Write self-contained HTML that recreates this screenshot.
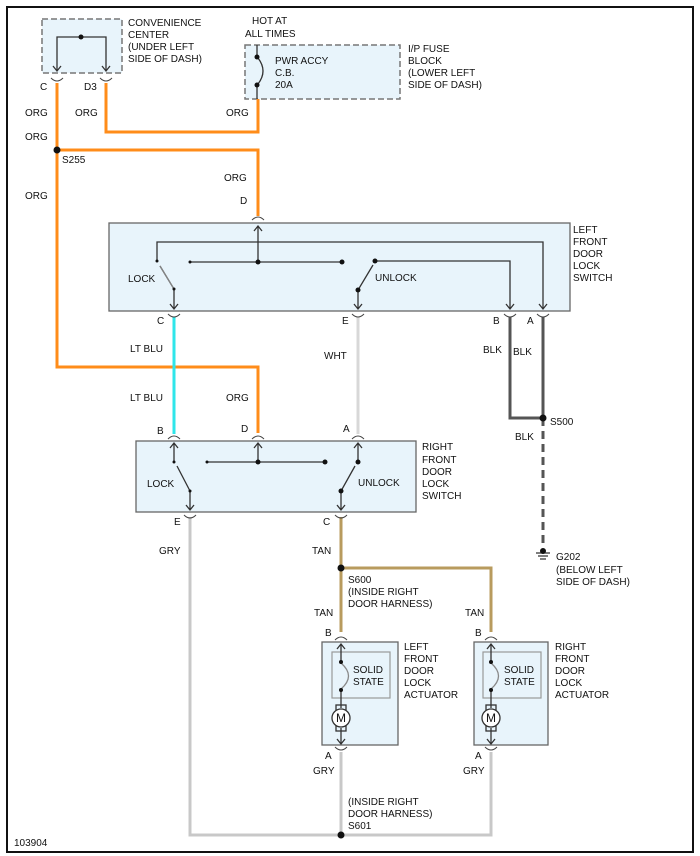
<!DOCTYPE html>
<html><head><meta charset="utf-8"><style>
body{margin:0;background:#fff}
svg{display:block}
text{font-family:"Liberation Sans",sans-serif;font-size:10px;fill:#111}
</style></head><body>
<svg width="700" height="856" viewBox="0 0 700 856" xmlns="http://www.w3.org/2000/svg">
<rect x="7" y="7" width="686" height="845" fill="#fff" stroke="#111" stroke-width="2"/>

<!-- boxes -->
<rect x="42" y="19" width="80" height="54" fill="#e8f4fb" stroke="#777" stroke-width="1.5" stroke-dasharray="6,3"/>
<rect x="245" y="45" width="155" height="54" fill="#e8f4fb" stroke="#777" stroke-width="1.5" stroke-dasharray="6,3"/>
<rect x="109" y="223" width="461" height="88" fill="#e8f4fb" stroke="#666" stroke-width="1.3"/>
<rect x="136" y="441" width="280" height="71" fill="#e8f4fb" stroke="#666" stroke-width="1.3"/>
<rect x="322" y="642" width="76" height="103" fill="#e8f4fb" stroke="#666" stroke-width="1.3"/>
<rect x="474" y="642" width="74" height="103" fill="#e8f4fb" stroke="#666" stroke-width="1.3"/>
<rect x="332" y="652" width="58" height="46" fill="none" stroke="#999" stroke-width="1.2"/>
<rect x="483" y="652" width="58" height="46" fill="none" stroke="#999" stroke-width="1.2"/>

<!-- wires -->
<g fill="none" stroke-width="3">
<path d="M57 83 V367 H258 V433" stroke="#ff8c1a"/>
<path d="M106 83 V132 H258 V99" stroke="#ff8c1a"/>
<path d="M57 150 H258 V216" stroke="#ff8c1a"/>
<path d="M174 317 V434" stroke="#2ee6ea"/>
<path d="M358 317 V434" stroke="#d8d8d8"/>
<path d="M510 317 V418 H543" stroke="#555"/>
<path d="M543 317 V418" stroke="#555"/>
<path d="M543 418 V548" stroke="#555" stroke-dasharray="8,5"/>
<path d="M190 517 V835 H491 V752" stroke="#c8c8c8"/>
<path d="M341 752 V835" stroke="#c8c8c8"/>
<path d="M341 517 V632" stroke="#b89b5e"/>
<path d="M341 568 H491 V632" stroke="#b89b5e"/>
</g>

<!-- internal lines -->
<g fill="none" stroke="#333" stroke-width="1.3">
<path d="M57 70 V37 H106 V70"/>
<path d="M53 66 L57 71 L61 66 M102 66 L106 71 L110 66"/>
<path d="M257 45 V57 M257 85 V99"/>
<path d="M258 58 Q268 71 258 84"/>
<!-- LF switch -->
<path d="M258 226 V262 M190 262 H342"/>
<path d="M254 231 L258 226 L262 231"/>
<path d="M157 261 V242 H543 V309"/>
<path d="M539 304 L543 309 L547 304"/>
<path d="M160 266 L174 289 V309 M170 304 L174 309 L178 304"/>
<path d="M375 261 H510 V309 M506 304 L510 309 L514 304"/>
<path d="M373 265 L358 290 V309 M354 304 L358 309 L362 304"/>
<!-- RF switch -->
<path d="M258 443 V462 M207 462 H325"/>
<path d="M254 448 L258 443 L262 448"/>
<path d="M174 443 V462 M170 448 L174 443 L178 448"/>
<path d="M177 466 L190 491 V510 M186 505 L190 510 L194 505"/>
<path d="M358 443 V462 M354 448 L358 443 L362 448"/>
<path d="M355 466 L341 491 V510 M337 505 L341 510 L345 505"/>
<!-- actuators -->
<path d="M341 644 V662 M341 690 V708 M341 728 V744"/>
<path d="M337 649 L341 644 L345 649 M337 739 L341 744 L345 739"/>
<path d="M341 663 Q356 676 341 689" stroke="#888"/>
<rect x="336" y="705" width="10" height="5"/><rect x="336" y="726" width="10" height="5"/>
<circle cx="341" cy="718" r="9" fill="#fff"/>
<path d="M491 644 V662 M491 690 V708 M491 728 V744"/>
<path d="M487 649 L491 644 L495 649 M487 739 L491 744 L495 739"/>
<path d="M491 663 Q506 676 491 689" stroke="#888"/>
<rect x="486" y="705" width="10" height="5"/><rect x="486" y="726" width="10" height="5"/>
<circle cx="491" cy="718" r="9" fill="#fff"/>
<!-- ground -->
<path d="M536 553 H550 M538 556 H548 M540 559 H546" stroke="#333"/>
</g>
<g fill="none" stroke="#999" stroke-width="1.2">
<path d="M160 266 L174 289" stroke="#888"/>
</g>

<!-- connector cups -->
<g fill="none" stroke="#444" stroke-width="1">
<path d="M51 78 Q57 84 63 78 M100 78 Q106 84 112 78"/>
<path d="M252 220 Q258 214 264 220"/>
<path d="M168 314 Q174 320 180 314 M352 314 Q358 320 364 314 M504 314 Q510 320 516 314 M537 314 Q543 320 549 314"/>
<path d="M168 439 Q174 433 180 439 M252 439 Q258 433 264 439 M352 439 Q358 433 364 439"/>
<path d="M184 515 Q190 521 196 515 M335 515 Q341 521 347 515"/>
<path d="M335 640 Q341 634 347 640 M485 640 Q491 634 497 640"/>
<path d="M335 747 Q341 753 347 747 M485 747 Q491 753 497 747"/>
</g>

<!-- dots -->
<g fill="#111">
<circle cx="81" cy="37" r="2.5"/><circle cx="257" cy="57" r="2.5"/><circle cx="257" cy="85" r="2.5"/>
<circle cx="57" cy="150" r="3.5"/>
<circle cx="258" cy="262" r="2.5"/><circle cx="342" cy="262" r="2.5"/><circle cx="190" cy="262" r="1.5"/>
<circle cx="157" cy="261" r="1.5"/><circle cx="174" cy="289" r="1.5"/><circle cx="375" cy="261" r="2.5"/><circle cx="358" cy="290" r="2.5"/>
<circle cx="258" cy="462" r="2.5"/><circle cx="325" cy="462" r="2.5"/><circle cx="207" cy="462" r="1.5"/>
<circle cx="174" cy="462" r="1.5"/><circle cx="190" cy="491" r="1.5"/><circle cx="358" cy="462" r="2.5"/><circle cx="341" cy="491" r="2.5"/>
<circle cx="341" cy="662" r="2"/><circle cx="341" cy="690" r="2"/><circle cx="491" cy="662" r="2"/><circle cx="491" cy="690" r="2"/>
<circle cx="543" cy="418" r="3.5"/><circle cx="543" cy="551" r="3"/>
<circle cx="341" cy="568" r="3.5"/><circle cx="341" cy="835" r="3.5"/>
</g>
<text x="336" y="722" style="font-size:12px">M</text>
<text x="486" y="722" style="font-size:12px">M</text>

<!-- labels -->
<text x="128" y="26">CONVENIENCE</text><text x="128" y="38">CENTER</text><text x="128" y="50">(UNDER LEFT</text><text x="128" y="62">SIDE OF DASH)</text>
<text x="252" y="24">HOT AT</text><text x="245" y="37">ALL TIMES</text>
<text x="275" y="64">PWR ACCY</text><text x="275" y="76">C.B.</text><text x="275" y="88">20A</text>
<text x="408" y="52">I/P FUSE</text><text x="408" y="64">BLOCK</text><text x="408" y="76">(LOWER LEFT</text><text x="408" y="88">SIDE OF DASH)</text>
<text x="40" y="90">C</text><text x="84" y="90">D3</text>
<text x="25" y="116">ORG</text><text x="75" y="116">ORG</text><text x="226" y="116">ORG</text>
<text x="25" y="140">ORG</text><text x="62" y="163">S255</text><text x="25" y="199">ORG</text>
<text x="224" y="181">ORG</text><text x="240" y="204">D</text>
<text x="573" y="233">LEFT</text><text x="573" y="245">FRONT</text><text x="573" y="257">DOOR</text><text x="573" y="269">LOCK</text><text x="573" y="281">SWITCH</text>
<text x="128" y="282">LOCK</text><text x="375" y="281">UNLOCK</text>
<text x="157" y="324">C</text><text x="342" y="324">E</text><text x="493" y="324">B</text><text x="527" y="324">A</text>
<text x="130" y="352">LT BLU</text><text x="324" y="359">WHT</text><text x="483" y="353">BLK</text><text x="513" y="355">BLK</text>
<text x="130" y="401">LT BLU</text><text x="226" y="401">ORG</text>
<text x="550" y="425">S500</text><text x="515" y="440">BLK</text>
<text x="157" y="434">B</text><text x="241" y="432">D</text><text x="343" y="432">A</text>
<text x="422" y="450">RIGHT</text><text x="422" y="463">FRONT</text><text x="422" y="475">DOOR</text><text x="422" y="487">LOCK</text><text x="422" y="499">SWITCH</text>
<text x="147" y="487">LOCK</text><text x="358" y="486">UNLOCK</text>
<text x="174" y="525">E</text><text x="323" y="525">C</text>
<text x="159" y="554">GRY</text><text x="312" y="554">TAN</text>
<text x="556" y="560">G202</text><text x="556" y="573">(BELOW LEFT</text><text x="556" y="585">SIDE OF DASH)</text>
<text x="348" y="583">S600</text><text x="348" y="595">(INSIDE RIGHT</text><text x="348" y="607">DOOR HARNESS)</text>
<text x="314" y="616">TAN</text><text x="465" y="616">TAN</text>
<text x="325" y="636">B</text><text x="475" y="636">B</text>
<text x="353" y="673">SOLID</text><text x="353" y="685">STATE</text>
<text x="504" y="673">SOLID</text><text x="504" y="685">STATE</text>
<text x="404" y="650">LEFT</text><text x="404" y="662">FRONT</text><text x="404" y="674">DOOR</text><text x="404" y="686">LOCK</text><text x="404" y="698">ACTUATOR</text>
<text x="555" y="650">RIGHT</text><text x="555" y="662">FRONT</text><text x="555" y="674">DOOR</text><text x="555" y="686">LOCK</text><text x="555" y="698">ACTUATOR</text>
<text x="325" y="759">A</text><text x="475" y="759">A</text>
<text x="313" y="774">GRY</text><text x="463" y="774">GRY</text>
<text x="348" y="805">(INSIDE RIGHT</text><text x="348" y="817">DOOR HARNESS)</text><text x="348" y="829">S601</text>
<text x="14" y="846">103904</text>
</svg>
</body></html>
